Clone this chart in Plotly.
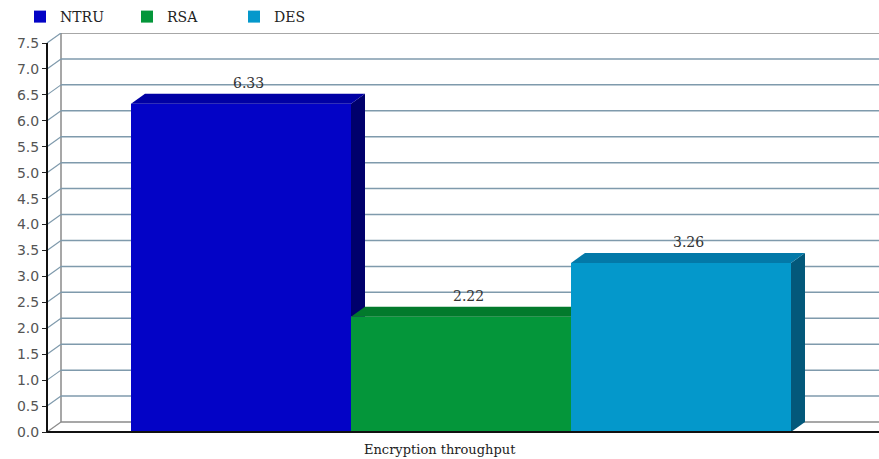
import plotly.graph_objects as go

# ---- data ----
categories = ["NTRU", "RSA", "DES"]
values = [6.33, 2.22, 3.26]
value_labels = ["6.33", "2.22", "3.26"]
y_ticks = [0.0, 0.5, 1.0, 1.5, 2.0, 2.5, 3.0, 3.5, 4.0, 4.5, 5.0, 5.5, 6.0, 6.5, 7.0, 7.5]
x_title = "Encryption throughput"

# ---- styles ----
front_colors = ["#0303c6", "#04963a", "#0498cb"]
top_colors = ["#0000a4", "#027a2c", "#0379a8"]
side_colors = ["#00006c", "#015a20", "#03587a"]
grid_color = "#7f9aac"
wall_color = "#8a8a8a"

W, H = 879, 459
# pixel layout of the pseudo-3D frame
plot_l, plot_r, plot_t, plot_b = 40, 879, 33, 437
axis_px = 47          # front y axis
zero_px = 432         # value 0
ymax = 7.5
ymax_px = 43          # value 7.5
bar_left_px = 131     # left edge of first bar
bar_w_px = 220
depth_x_px, depth_y_px = 14, 10

ppu_y = (zero_px - ymax_px) / ymax
yr = [-(plot_b - zero_px) / ppu_y, (zero_px - plot_t) / ppu_y]
xr = [-0.5 - (bar_left_px - plot_l) / bar_w_px, -0.5 + (plot_r - bar_left_px) / bar_w_px]
xa = -0.5 - (bar_left_px - axis_px) / bar_w_px
dx = depth_x_px / bar_w_px
dy = depth_y_px / ppu_y

fig = go.Figure()

n = len(values)
xs = list(range(n))

# front faces
for i, (c, v) in enumerate(zip(categories, values)):
    fig.add_trace(go.Bar(x=[xs[i]], y=[v], width=1, name=c,
                         marker=dict(color=front_colors[i], line=dict(width=0)),
                         hoverinfo="skip"))

# top and side faces (clipped where the next bar's front face covers them)
for i, v in enumerate(values):
    x0, x1 = xs[i] - 0.5, xs[i] + 0.5
    nxt = values[i + 1] if i + 1 < n else None
    if nxt is not None and nxt >= v + dy:
        tx = [x0, x0 + dx, x1, x1, x0]
        ty = [v, v + dy, v + dy, v, v]
        sx = sy = None
    else:
        tx = [x0, x0 + dx, x1 + dx, x1, x0]
        ty = [v, v + dy, v + dy, v, v]
        if nxt is None:
            sx = [x1, x1, x1 + dx, x1 + dx, x1]
            sy = [0, v, v + dy, dy, 0]
        else:
            sx = [x1, x1, x1 + dx, x1 + dx, x1]
            sy = [nxt, v, v + dy, nxt, nxt]
    if sx is not None:
        fig.add_trace(go.Scatter(x=sx, y=sy, fill="toself", mode="lines",
                                 line=dict(width=0, color=side_colors[i]),
                                 fillcolor=side_colors[i], showlegend=False,
                                 hoverinfo="skip"))
    fig.add_trace(go.Scatter(x=tx, y=ty, fill="toself", mode="lines",
                             line=dict(width=0, color=top_colors[i]),
                             fillcolor=top_colors[i], showlegend=False,
                             hoverinfo="skip"))

shapes = []
# back wall left edge
shapes.append(dict(type="line", xref="x", yref="y", x0=xa + dx, x1=xa + dx,
                   y0=dy, y1=ymax + dy, line=dict(color=wall_color, width=1.5), layer="below"))
for t in y_ticks:
    col = wall_color if t in (0.0, ymax) else grid_color
    shapes.append(dict(type="line", xref="x", yref="y", x0=xa + dx, x1=xr[1],
                       y0=t + dy, y1=t + dy, line=dict(color=col, width=1.5), layer="below"))
    shapes.append(dict(type="line", xref="x", yref="y", x0=xa, x1=xa + dx,
                       y0=t, y1=t + dy, line=dict(color=grid_color if t > 0 else wall_color, width=1.2),
                       layer="below"))
# front axis and floor edge
shapes.append(dict(type="line", xref="x", yref="y", x0=xa, x1=xa, y0=0, y1=ymax,
                   line=dict(color="#111111", width=2), layer="above"))
shapes.append(dict(type="line", xref="x", yref="y", x0=xa, x1=xr[1], y0=0, y1=0,
                   line=dict(color="#111111", width=2), layer="above"))

annotations = []
for i, (v, lab) in enumerate(zip(values, value_labels)):
    annotations.append(dict(x=xs[i] + dx / 2, y=v + dy, xref="x", yref="y", text=lab,
                            showarrow=False, yanchor="bottom", yshift=1,
                            font=dict(family="DejaVu Serif", size=14, color="#333333")))
annotations.append(dict(x=(440 - plot_l) / (plot_r - plot_l), y=0, xref="paper", yref="paper",
                        text=x_title, showarrow=False, yanchor="top", yshift=-3,
                        font=dict(family="DejaVu Serif", size=13, color="#222222")))

fig.update_layout(
    width=W, height=H,
    margin=dict(l=plot_l, r=W - plot_r, t=plot_t, b=H - plot_b, pad=0),
    paper_bgcolor="white", plot_bgcolor="white",
    barmode="overlay",
    showlegend=True,
    legend=dict(orientation="h", x=(20 - plot_l) / (plot_r - plot_l), xanchor="left",
                y=1, yanchor="bottom", entrywidth=62, entrywidthmode="pixels",
                font=dict(family="DejaVu Serif", size=14, color="#222222"),
                bgcolor="rgba(0,0,0,0)", traceorder="normal"),
    xaxis=dict(range=xr, showgrid=False, zeroline=False, showticklabels=False,
               ticks="", showline=False, fixedrange=True),
    yaxis=dict(range=yr, tickvals=y_ticks, tickformat=".1f", showgrid=False,
               zeroline=False, showline=False, ticks="outside", ticklen=5,
               tickcolor="#222222", anchor="free",
               position=(axis_px - plot_l) / (plot_r - plot_l),
               tickfont=dict(family="DejaVu Sans", size=14, color="#555555")),
    shapes=shapes,
    annotations=annotations,
)

fig.write_html("out.html")
